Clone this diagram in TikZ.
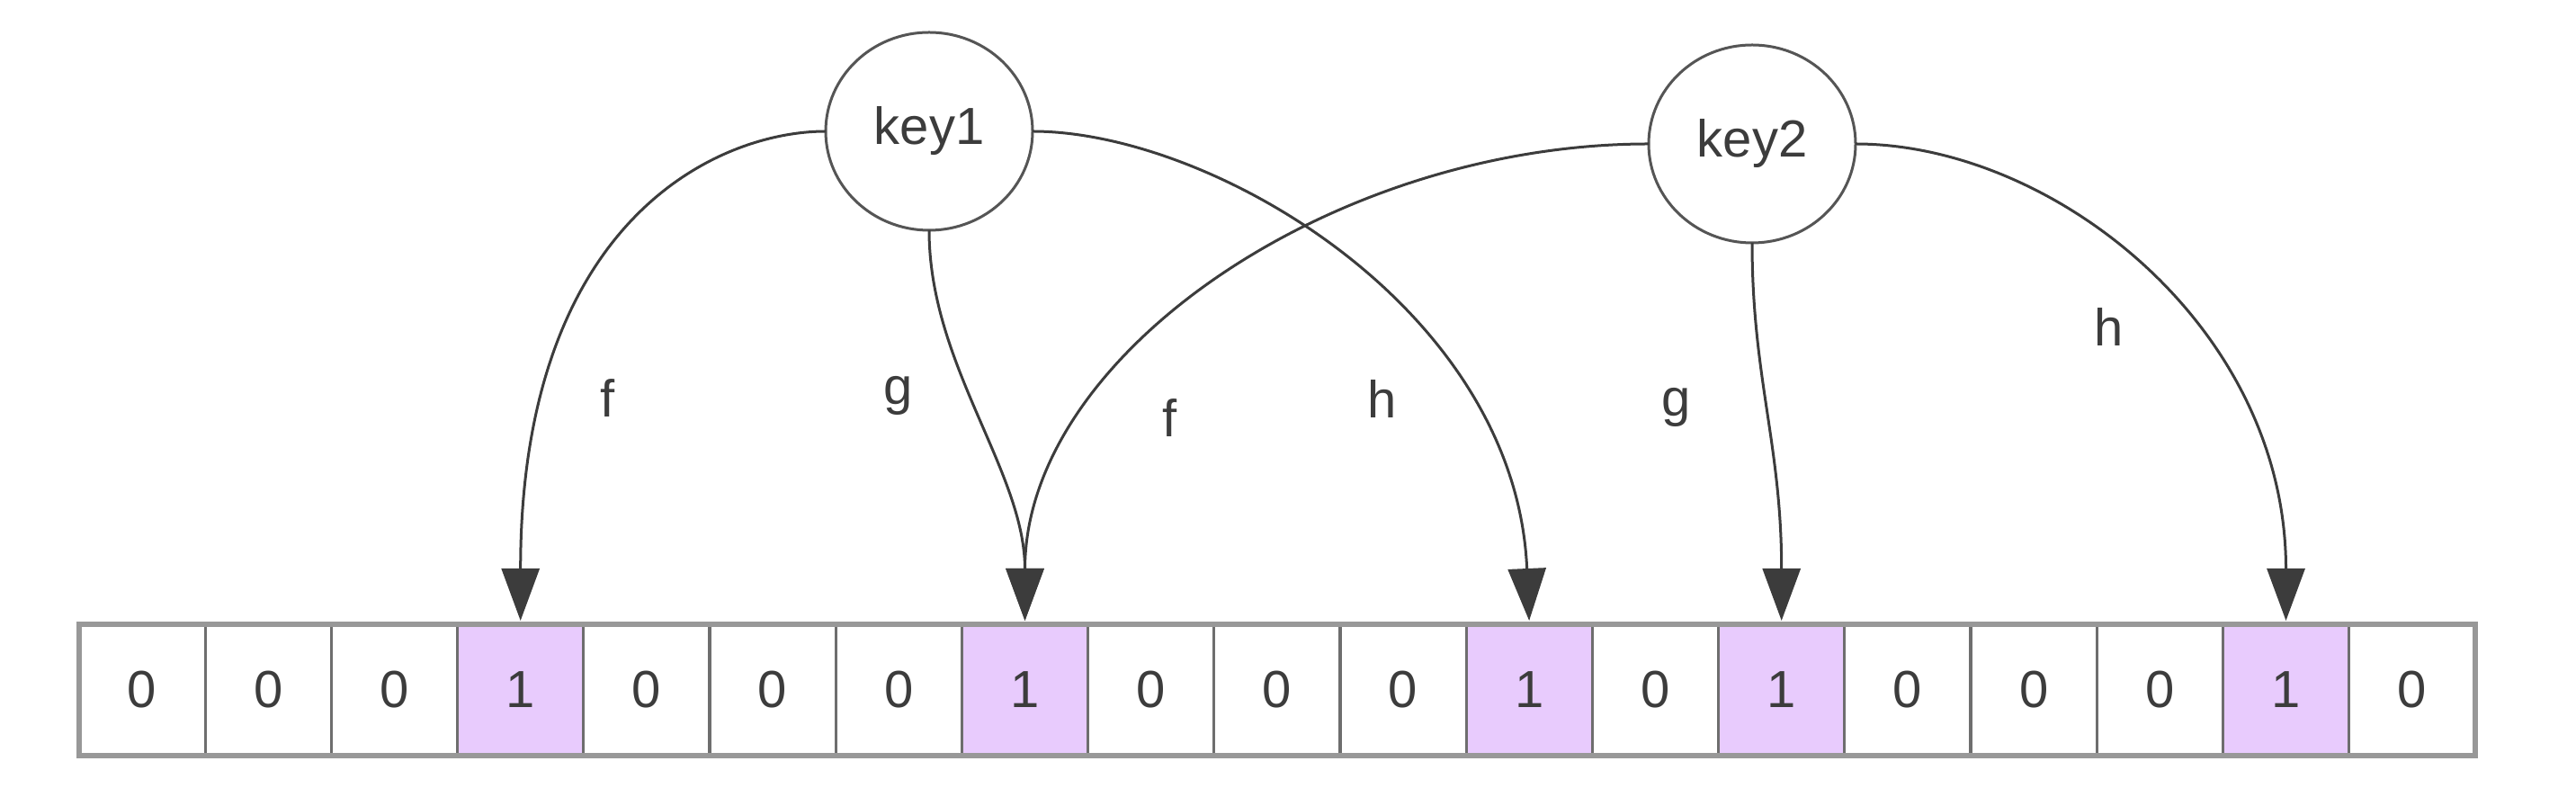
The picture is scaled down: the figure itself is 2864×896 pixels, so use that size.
\documentclass[tikz,border=0pt]{standalone}
\usepackage{fontspec}
\setmainfont{Liberation Sans}
\usetikzlibrary{arrows.meta,shapes.geometric}
\definecolor{cellfill}{RGB}{232,203,253}
\definecolor{celledge}{RGB}{110,110,110}
\definecolor{rimgray}{RGB}{152,152,152}
\definecolor{inkgray}{RGB}{60,60,60}
\definecolor{keyedge}{RGB}{85,85,85}

\begin{document}
\begin{tikzpicture}[x=0.25bp,y=-0.25bp,inner sep=0pt,outer sep=0pt,
  cell/.style={draw=celledge,line width=0.8bp,minimum width=35.05bp,minimum height=36.5bp,
    font=\fontsize{14.5bp}{17.4bp}\selectfont,text=inkgray},
  keynode/.style={ellipse,draw=keyedge,line width=0.75bp,fill=white,minimum width=57.5bp,
    minimum height=55bp,font=\fontsize{14.5bp}{17.4bp}\selectfont,text=inkgray},
  hashlabel/.style={font=\fontsize{14.5bp}{17.4bp}\selectfont,text=inkgray},
  hasharrow/.style={draw=inkgray,line width=0.75bp,-{Triangle[length=14.5bp,width=10.5bp]},shorten >=1bp}]
  \useasboundingbox (0,0) rectangle (2864,896);
  \foreach \v/\c [count=\i] in {0/white,0/white,0/white,1/cellfill,0/white,0/white,0/white,1/cellfill,0/white,0/white,
      0/white,1/cellfill,0/white,1/cellfill,0/white,0/white,0/white,1/cellfill,0/white}
    \node[cell,fill=\c] (c\i) at ({88+(\i-0.5)*140.2},767) {\v};
  \draw[rimgray,line width=1.6bp] (c1.north west) rectangle (c19.south east);
  \node[keynode] (k1) at (1033,146) {key1};
  \node[keynode] (k2) at (1948,160) {key2};
  \draw[hasharrow] (k1.west) .. controls +(-120,0) and +(0,-450) .. (c4.north);
  \draw[hasharrow] (k1.south) .. controls +(0,150) and +(0,-170) .. (c8.north);
  \draw[hasharrow] (k1.east) .. controls +(200,0) and +(-15,-350) .. (c12.north);
  \draw[hasharrow] (k2.west) .. controls +(-350,0) and +(0,-300) .. (c8.north);
  \draw[hasharrow] (k2.south) .. controls +(0,150) and +(0,-200) .. (c14.north);
  \draw[hasharrow] (k2.east) .. controls +(220,0) and +(0,-330) .. (c18.north);
  \node[hashlabel] (f1) at (676,443) {f};
  \node[hashlabel] (g1) at (999,440) {g};
  \node[hashlabel] (h1) at (1537,443) {h};
  \node[hashlabel] (f2) at (1301,465) {f};
  \node[hashlabel] (g2) at (1864,453) {g};
  \node[hashlabel] (h2) at (2345,363) {h};
\end{tikzpicture}
\end{document}
